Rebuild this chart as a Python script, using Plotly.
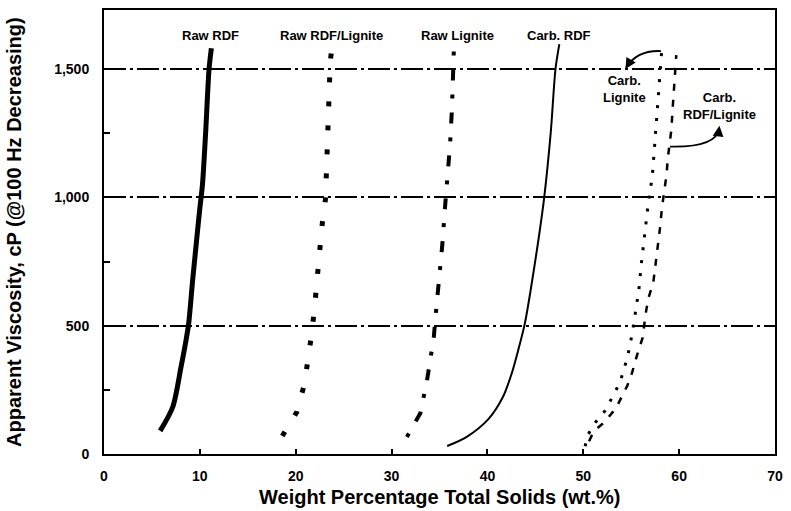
import plotly.graph_objects as go

# ---- data ----
raw_rdf_x = [5.86, 7.17, 8.03, 8.55, 8.83, 9.24, 9.65, 10.0, 10.27, 10.6, 10.96, 11.2]
raw_rdf_y = [90, 183, 338, 442, 507, 674, 829, 958, 1049, 1250, 1500, 1581]

raw_rdf_lig_x = [18.6, 20.1, 20.9, 21.3, 21.7, 22.0, 22.2, 22.5, 22.75, 23.1, 23.2, 23.3, 23.35, 23.5, 23.6, 23.8]
raw_rdf_lig_y = [70, 163, 271, 368, 477, 585, 690, 791, 891, 992, 1093, 1209, 1326, 1426, 1527, 1593]

raw_lig_x = [31.6, 33.0, 33.7, 34.4, 34.7, 35.0, 35.3, 35.6, 35.9, 36.1, 36.3, 36.4, 36.5]
raw_lig_y = [66, 159, 287, 453, 581, 682, 818, 973, 1089, 1205, 1345, 1496, 1578]

carb_rdf_x = [35.8, 37.8, 40.1, 41.6, 42.5, 43.2, 43.9, 44.5, 45.3, 45.9, 46.6, 47.1, 47.5]
carb_rdf_y = [31, 66, 136, 221, 310, 403, 508, 636, 829, 992, 1250, 1500, 1597]

carb_lig_x = [50.2, 50.4, 51.3, 52.3, 53.4, 53.9, 54.2, 54.6, 55.1, 55.5, 55.8, 56.05, 56.3, 56.6, 56.8, 57.2, 57.4, 57.6, 57.8, 58.0, 58.1, 58.2]
carb_lig_y = [30, 70, 125, 170, 248, 287, 326, 375, 469, 558, 640, 740, 822, 907, 984, 1081, 1178, 1275, 1372, 1457, 1543, 1581]

carb_rdf_lig_x = [50.6, 51.1, 52.2, 53.4, 54.6, 55.1, 55.6, 56.2, 56.5, 56.8, 57.3, 57.5, 57.7, 57.8, 58.0, 58.2, 58.7, 58.8, 59.0, 59.2, 59.3, 59.4, 59.5, 59.6, 59.7]
carb_rdf_lig_y = [50, 89, 124, 178, 267, 318, 384, 454, 546, 608, 667, 725, 771, 822, 880, 957, 1093, 1147, 1205, 1267, 1333, 1380, 1438, 1500, 1554]

curve_labels = ["Raw RDF", "Raw RDF/Lignite", "Raw Lignite", "Carb. RDF"]
curve_label_x = [11.07, 23.7, 36.9, 47.5]

x_ticks = [0, 10, 20, 30, 40, 50, 60, 70]
y_ticks = [0, 500, 1000, 1500]
y_ticktext = ["0", "500", "1,000", "1,500"]

FONT = "Liberation Sans, Arial, sans-serif"

fig = go.Figure()

def add(x, y, width, dash, shape="linear", smoothing=1.0):
    line = dict(color="black", width=width, dash=dash, shape=shape)
    if shape == "spline":
        line["smoothing"] = smoothing
    fig.add_trace(go.Scatter(x=x, y=y, mode="lines", line=line, showlegend=False, hoverinfo="skip"))

add(raw_rdf_x, raw_rdf_y, 5, "solid", "spline", 0.8)
add(raw_rdf_lig_x, raw_rdf_lig_y, 5, "5px,19px")
add(raw_lig_x, raw_lig_y, 4, "4px,14px,11px,14px")
add(carb_rdf_x, carb_rdf_y, 2, "solid", "spline", 0.8)
add(carb_lig_x, carb_lig_y, 3, "3px,10px")
add(carb_rdf_lig_x, carb_rdf_lig_y, 2.5, "7px,9px")

annotations = []
for t, x in zip(curve_labels, curve_label_x):
    annotations.append(dict(x=x, y=1632, text="<b>" + t + "</b>", showarrow=False,
                            font=dict(family=FONT, size=13, color="black")))

annotations.append(dict(x=54.3, y=1422, text="<b>Carb.<br>Lignite</b>", showarrow=False,
                        font=dict(family=FONT, size=13, color="black"), align="center"))
annotations.append(dict(x=64.2, y=1357, text="<b>Carb.<br>RDF/Lignite</b>", showarrow=False,
                        font=dict(family=FONT, size=13, color="black"), align="center"))

# arrowheads
annotations.append(dict(x=54.4, y=1500, ax=54.9, ay=1531, axref="x", ayref="y", text="", showarrow=True,
                        arrowhead=2, arrowsize=1.2, arrowwidth=1.8, arrowcolor="black"))
annotations.append(dict(x=64.2, y=1279, ax=64.1, ay=1248, axref="x", ayref="y", text="", showarrow=True,
                        arrowhead=2, arrowsize=1.2, arrowwidth=1.8, arrowcolor="black"))

# axis titles
annotations.append(dict(xref="paper", yref="paper", x=0.5, y=0, yshift=-43, yanchor="middle",
                        text="<b>Weight Percentage Total Solids (wt.%)</b>", showarrow=False,
                        font=dict(family=FONT, size=20, color="black")))
annotations.append(dict(xref="paper", yref="paper", x=0, xshift=-90, y=0.5, xanchor="center", textangle=-90,
                        text="<b>Apparent Viscosity, cP (@100 Hz Decreasing)</b>", showarrow=False,
                        font=dict(family=FONT, size=20, color="black")))

shapes = [
    dict(type="path", xref="x", yref="y", path="M 58.1,1570 Q 55.6,1574 54.45,1505",
         line=dict(color="black", width=1.8)),
    dict(type="path", xref="x", yref="y", path="M 59.05,1198 Q 63.9,1194 64.2,1270",
         line=dict(color="black", width=1.8)),
]

fig.update_layout(
    width=791, height=511,
    margin=dict(l=104, r=10, t=8, b=57),
    paper_bgcolor="white", plot_bgcolor="white",
    annotations=annotations, shapes=shapes,
    font=dict(family=FONT, color="black"),
    xaxis=dict(range=[0, 70], tickvals=x_ticks, ticktext=["<b>%d</b>" % v for v in x_ticks],
               ticks="inside", ticklen=5, tickwidth=1.5, tickcolor="black",
               showgrid=False, zeroline=False, showline=True, linewidth=2, linecolor="black", mirror=True,
               tickfont=dict(family=FONT, size=14, color="black"), ticklabelstandoff=8),
    yaxis=dict(range=[0, 1730], tickvals=y_ticks, ticktext=["<b>%s</b>" % t for t in y_ticktext],
               ticks="", showgrid=True, gridcolor="black", gridwidth=1.6, griddash="22px,4px,3px,4px",
               zeroline=False, showline=True, linewidth=2, linecolor="black", mirror=True,
               tickfont=dict(family=FONT, size=14, color="black"), ticklabelstandoff=10,
               minor=dict(tickvals=[250, 750, 1250], ticks="inside", ticklen=6, tickwidth=1.5, tickcolor="black",
                          showgrid=False)),
)

fig.write_html("out.html")
